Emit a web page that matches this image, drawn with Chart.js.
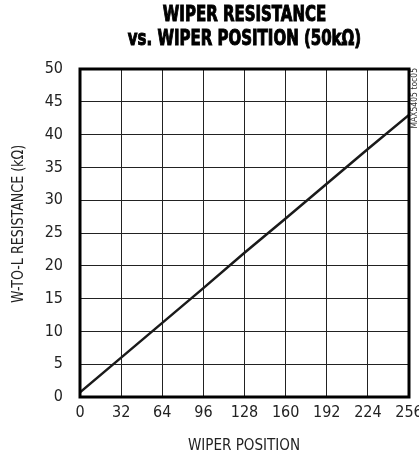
<!DOCTYPE html>
<html>
<head>
<meta charset="utf-8">
<script src="https://cdn.jsdelivr.net/npm/chart.js@4/dist/chart.umd.min.js"></script>
<style>
    html, body { margin: 0; padding: 0; background: #fff; }
    #wrap { width: 419px; height: 460px; position: relative; }
</style>
</head>
<body>
<div id="wrap"><canvas id="chart"></canvas></div>
<script>
// chart data
const wiperPositions = [0, 32, 64, 96, 128, 160, 192, 224, 256];
const resistanceKOhm = [0.7, 6.0, 11.3, 16.6, 22.0, 27.2, 32.5, 37.8, 43.0];
const xTicks = [0, 32, 64, 96, 128, 160, 192, 224, 256];
const yTicks = [0, 5, 10, 15, 20, 25, 30, 35, 40, 45, 50];

const titleLines = ['WIPER RESISTANCE', 'vs. WIPER POSITION (50k\u03A9)'];
const yAxisTitle = 'W-TO-L RESISTANCE (k\u03A9)';
const xAxisTitle = 'WIPER POSITION';
const sideNote = 'MAX5405 toc05';

const narrow = '"Liberation Sans Narrow", "DejaVu Sans Condensed", sans-serif';

// draws the heavy frame, titles and the little side note
const decorations = {
    id: 'decorations',
    afterDraw(chart) {
        const { ctx, chartArea: a } = chart;
        ctx.save();
        ctx.strokeStyle = '#000';
        ctx.lineWidth = 3;
        ctx.strokeRect(a.left, a.top, a.right - a.left, a.bottom - a.top);

        // heavy condensed title, stretched a little taller
        ctx.fillStyle = '#000';
        ctx.textAlign = 'center';
        ctx.textBaseline = 'middle';
        ctx.font = 'bold 17px ' + narrow;
        ctx.lineWidth = 0.8;
        const cx = (a.left + a.right) / 2;
        [[titleLines[0], 16], [titleLines[1], 40]].forEach(([t, y]) => {
            ctx.save();
            ctx.translate(cx, y);
            ctx.scale(0.98, 1.2);
            ctx.fillText(t, 0, 0);
            ctx.strokeText(t, 0, 0);
            ctx.restore();
        });

        // y axis title, rotated and squeezed
        ctx.save();
        ctx.fillStyle = '#222';
        ctx.font = '16px ' + narrow;
        ctx.translate(19, 224);
        ctx.rotate(-Math.PI / 2);
        ctx.scale(0.88, 1);
        ctx.fillText(yAxisTitle, 0, 0);
        ctx.restore();

        // x axis title
        ctx.save();
        ctx.fillStyle = '#222';
        ctx.font = '16px ' + narrow;
        ctx.translate(244, 446);
        ctx.scale(0.94, 1);
        ctx.fillText(xAxisTitle, 0, 0);
        ctx.restore();

        ctx.font = '8.5px ' + narrow;
        ctx.fillStyle = '#333';
        ctx.translate(415, 68);
        ctx.rotate(-Math.PI / 2);
        ctx.textAlign = 'right';
        ctx.fillText(sideNote, 0, 0);
        ctx.restore();
    }
};

new Chart(document.getElementById('chart'), {
    type: 'line',
    data: {
        datasets: [{
            data: wiperPositions.map((p, i) => ({ x: p, y: resistanceKOhm[i] })),
            borderColor: '#1a1a1a',
            borderWidth: 2.5,
            pointRadius: 0,
            tension: 0,
            fill: false
        }]
    },
    options: {
        responsive: true,
        maintainAspectRatio: false,
        animation: false,
        layout: { padding: { top: 69, right: 10, left: 0, bottom: 0 } },
        plugins: {
            legend: { display: false },
            tooltip: { enabled: false }
        },
        scales: {
            x: {
                type: 'linear',
                min: 0,
                max: 256,
                afterBuildTicks: s => { s.ticks = xTicks.map(v => ({ value: v })); },
                afterFit: s => { s.height = 63; s.paddingLeft = 0; s.paddingRight = 0; },
                grid: { color: '#222', lineWidth: 1, drawTicks: false },
                border: { display: false },
                ticks: {
                    color: '#222',
                    padding: 6,
                    maxRotation: 0,
                    autoSkip: false,
                    font: { family: narrow, size: 16 }
                }
            },
            y: {
                min: 0,
                max: 50,
                afterBuildTicks: s => { s.ticks = yTicks.map(v => ({ value: v })); },
                afterFit: s => { s.width = 80; s.paddingTop = 0; s.paddingBottom = 0; },
                grid: { color: '#222', lineWidth: 1, drawTicks: false },
                border: { display: false },
                ticks: {
                    color: '#222',
                    padding: 17,
                    autoSkip: false,
                    font: { family: narrow, size: 16 }
                }
            }
        }
    },
    plugins: [decorations]
});
</script>
</body>
</html>
